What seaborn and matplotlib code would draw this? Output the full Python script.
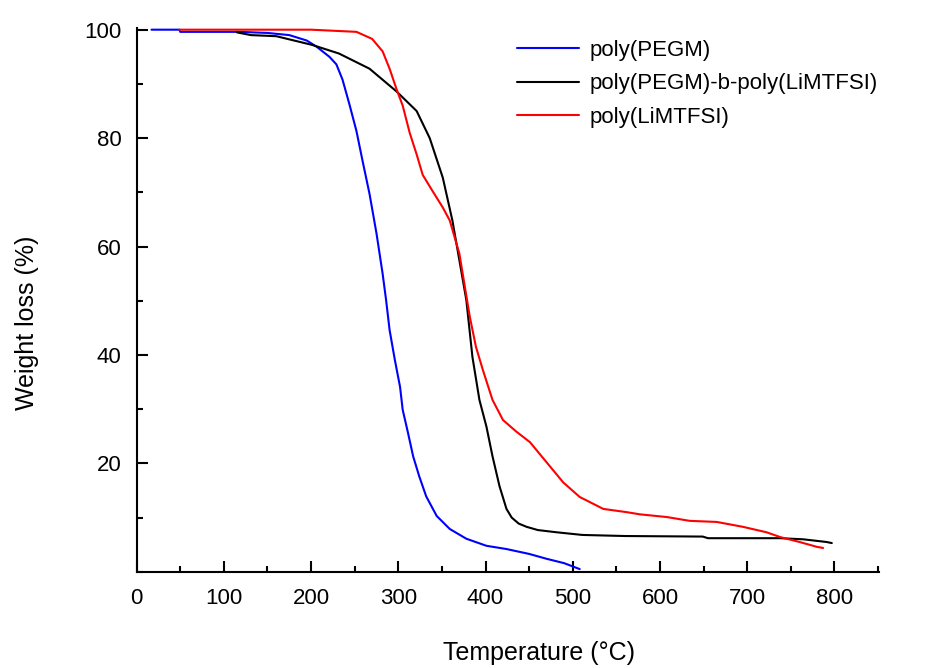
import numpy as np
import pandas as pd
import matplotlib
matplotlib.use("Agg")
import matplotlib.pyplot as plt
import seaborn as sns
from matplotlib.ticker import MultipleLocator

# =========================================================
# DATA
# =========================================================
pegm_T = [17, 49, 50, 118, 150, 175, 195, 206, 221, 229, 236, 244, 252, 259,
          267, 275, 282, 286, 290, 296, 302, 305, 311, 317, 324, 332, 344, 359,
          378, 401, 424, 450, 470, 490, 508]
pegm_W = [100, 100, 99.6, 99.6, 99.4, 99, 98, 96.9, 95, 93.6, 90.8, 86.2, 81.3, 75.8,
          69.7, 62.4, 55, 50.1, 44.6, 39.1, 34.1, 29.9, 25.7, 21.3, 17.6, 13.9, 10.3, 7.9,
          6.1, 4.8, 4.2, 3.3, 2.4, 1.6, 0.5]

block_T = [115, 131, 160, 201, 232, 267, 298, 321, 336, 351, 362, 374, 378, 385,
           393, 401, 408, 416, 424, 430, 438, 447, 460, 481, 511, 560, 649, 655,
           738, 764, 791, 797]
block_W = [99.5, 99, 98.8, 97.2, 95.6, 92.8, 88.6, 85, 80, 72.7, 64.8, 53.8, 50.1, 39.6,
           31.7, 26.8, 21.3, 15.8, 11.6, 10, 8.9, 8.3, 7.7, 7.3, 6.8, 6.6, 6.5, 6.2,
           6.2, 6, 5.5, 5.3]

limtfsi_T = [49, 120, 200, 252, 270, 282, 290, 298, 305, 313, 321, 328, 339, 351,
             359, 370, 382, 389, 397, 408, 420, 435, 451, 470, 489, 508, 535, 562,
             577, 608, 634, 665, 695, 722, 738, 760, 780, 787]
limtfsi_W = [100, 100, 100, 99.6, 98.3, 96, 92.8, 89, 86, 81, 77, 73.2, 70.3, 67.2,
             64.8, 58.7, 47, 41.5, 37.2, 31.7, 28, 25.9, 23.9, 20.2, 16.5, 13.8, 11.6, 11,
             10.6, 10.1, 9.4, 9.2, 8.3, 7.3, 6.4, 5.5, 4.6, 4.4]

labels = ["poly(PEGM)", "poly(PEGM)-b-poly(LiMTFSI)", "poly(LiMTFSI)"]
colors = ["#0000ff", "#000000", "#ff0000"]

df = pd.concat([
    pd.DataFrame({"T": pegm_T, "W": pegm_W, "sample": labels[0]}),
    pd.DataFrame({"T": block_T, "W": block_W, "sample": labels[1]}),
    pd.DataFrame({"T": limtfsi_T, "W": limtfsi_W, "sample": labels[2]}),
])

# =========================================================
# PLOT
# =========================================================
sns.set_style("ticks")
plt.rcParams["font.family"] = ["Liberation Sans", "DejaVu Sans"]
plt.rcParams["text.color"] = "black"
plt.rcParams["axes.labelcolor"] = "black"
plt.rcParams["xtick.color"] = "black"
plt.rcParams["ytick.color"] = "black"

fig, ax = plt.subplots(figsize=(9.36, 6.68), dpi=100)
fig.subplots_adjust(left=0.146, right=0.939, bottom=0.144, top=0.958)

sns.lineplot(data=df, x="T", y="W", hue="sample", palette=dict(zip(labels, colors)),
             hue_order=labels, sort=False, estimator=None, linewidth=1.5, ax=ax)

ax.set_xlim(0, 851)
ax.set_ylim(0, 100.3)
ax.set_xticks([0, 100, 200, 300, 400, 500, 600, 700, 800])
ax.set_yticks([20, 40, 60, 80, 100])
ax.xaxis.set_minor_locator(MultipleLocator(50))
ax.yaxis.set_minor_locator(MultipleLocator(10))
ax.tick_params(which="major", direction="in", length=8, width=1.5, labelsize=16)
ax.tick_params(axis="x", which="major", pad=12)
ax.tick_params(axis="y", which="major", pad=11)
ax.tick_params(which="minor", direction="in", length=4, width=1.5)

for side in ["top", "right"]:
    ax.spines[side].set_visible(False)
for side in ["left", "bottom"]:
    ax.spines[side].set_linewidth(1.5)
    ax.spines[side].set_color("black")

ax.set_xlabel("Temperature (°C)", fontsize=18)
ax.set_ylabel("Weight loss (%)", fontsize=18)
ax.xaxis.set_label_coords(0.542, -0.128)
ax.yaxis.set_label_coords(-0.132, 0.458)

ax.legend(frameon=False, fontsize=16, loc="upper left",
          bbox_to_anchor=(506 / 936, 1 - 29 / 668), bbox_transform=fig.transFigure,
          handlelength=2.8, handletextpad=0.45, labelspacing=0.55, borderpad=0)

fig.savefig("out.png", dpi=100)
